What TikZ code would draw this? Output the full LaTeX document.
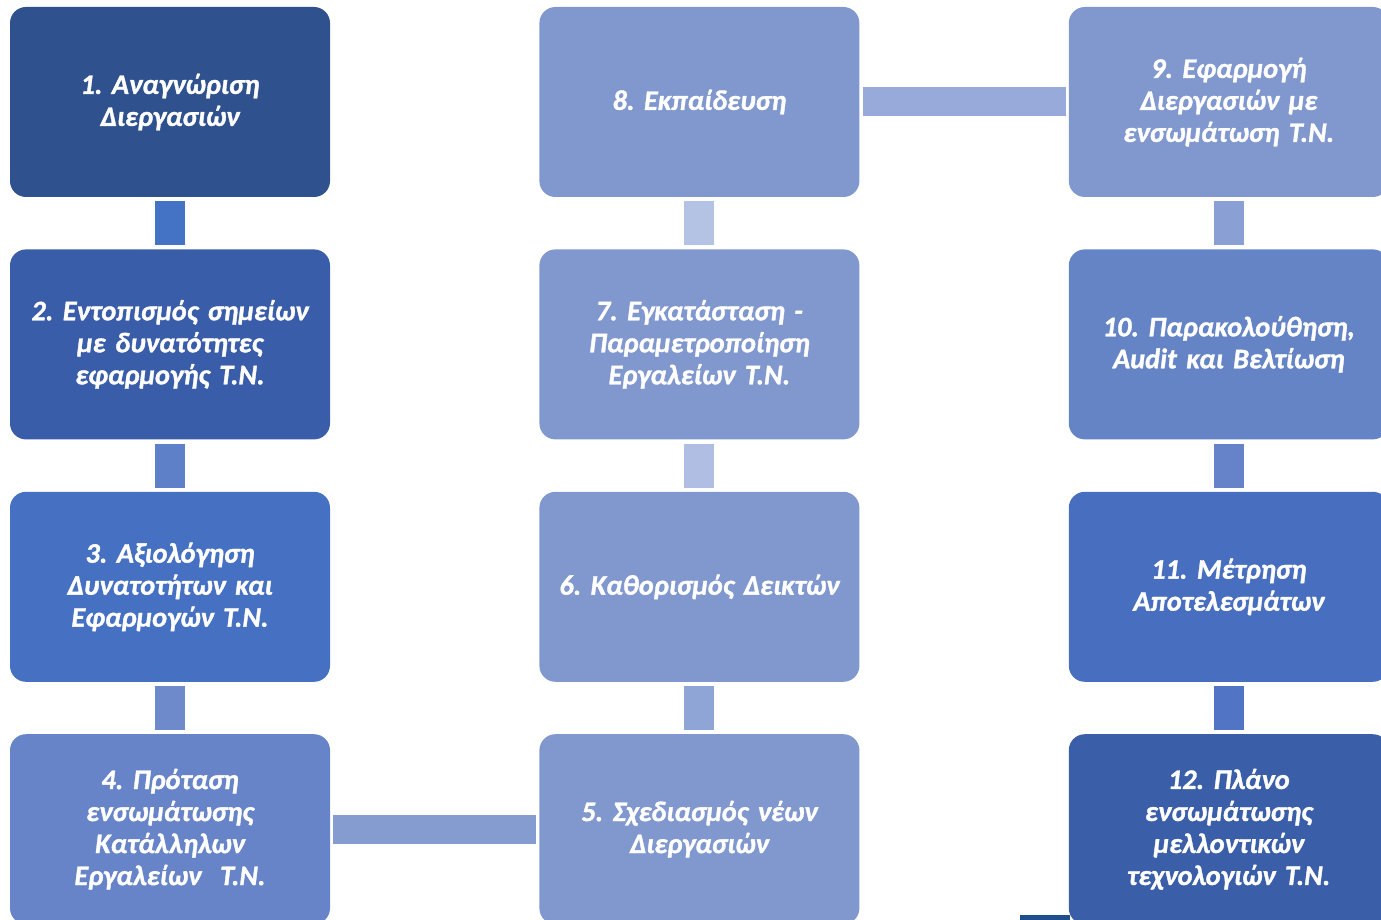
\documentclass[tikz,border=0pt]{standalone}
\usepackage{fontspec}
\setmainfont{Carlito}[BoldItalicFeatures={FakeBold=1.2}]
\usepackage{xcolor}
\usepackage{tikz}
\usetikzlibrary{positioning}
\definecolor{bxa}{HTML}{2F528F}
\definecolor{bxb}{HTML}{3A5DA9}
\definecolor{bxc}{HTML}{4670C2}
\definecolor{bxd}{HTML}{6784C8}
\definecolor{bxe}{HTML}{8198CF}
\definecolor{bxf}{HTML}{6584C6}
\definecolor{bxg}{HTML}{486FBF}
\definecolor{bxh}{HTML}{3A5EA8}
\definecolor{bxz}{HTML}{1F4E8C}
\definecolor{cna}{HTML}{4472C4}
\definecolor{cnb}{HTML}{5E80C8}
\definecolor{cnc}{HTML}{6F8ACB}
\definecolor{cnd}{HTML}{849CD0}
\definecolor{cne}{HTML}{8FA5D6}
\definecolor{cnf}{HTML}{AFBEE2}
\definecolor{cng}{HTML}{B4C2E3}
\definecolor{cnh}{HTML}{98AAD9}
\definecolor{cni}{HTML}{8A9FD4}
\definecolor{cnj}{HTML}{6682C8}
\definecolor{cnk}{HTML}{5274C4}
\frenchspacing
\tikzset{box/.style={fill=#1,text=white,rounded corners=16pt,minimum width=320pt,minimum height=190pt,text width=300pt,inner sep=10pt,align=center,font=\fontsize{28.3}{32}\selectfont\bfseries\itshape}}
\tikzset{bar/.style={draw=#1,line width=30pt,shorten <=4pt,shorten >=4pt}}
\tikzset{hbar/.style={draw=#1,line width=29pt,shorten <=3pt,shorten >=3pt}}

\begin{document}
\begin{tikzpicture}[node distance = 52pt and 209pt]
\useasboundingbox (0,0) rectangle (1381pt,-920pt);
% small piece at the bottom
 \fill[bxz] (1020pt,-915pt) rectangle (1070pt,-920pt);
% left column
 \node[box=bxa] (b1) at (170pt,-102pt) {1. Αναγνώριση\\Διεργασιών};
  \node[box=bxb,below=of b1] (b2) {2. Εντοπισμός σημείων\\με δυνατότητες\\εφαρμογής Τ.Ν.};
  \node[box=bxc,below=of b2] (b3) {3. Αξιολόγηση\\Δυνατοτήτων και\\Εφαρμογών Τ.Ν.};
  \node[box=bxd,below=of b3] (b4) {4. Πρόταση\\ενσωμάτωσης\\Κατάλληλων\\Εργαλείων~ Τ.Ν.};
% middle column
  \node[box=bxe,right=of b4] (b5) {5. Σχεδιασμός νέων\\Διεργασιών};
  \node[box=bxe,above=of b5] (b6) {6. Καθορισμός Δεικτών};
  \node[box=bxe,above=of b6] (b7) {7. Εγκατάσταση -\\Παραμετροποίηση\\Εργαλείων Τ.Ν.};
  \node[box=bxe,above=of b7] (b8) {8. Εκπαίδευση};
% right column
  \node[box=bxe,right=of b8] (b9) {9. Εφαρμογή\\Διεργασιών με\\ενσωμάτωση Τ.Ν.};
  \node[box=bxf,below=of b9] (b10) {10. Παρακολούθηση,\\Audit και Βελτίωση};
  \node[box=bxg,below=of b10] (b11) {11. Μέτρηση\\Αποτελεσμάτων};
  \node[box=bxh,below=of b11] (b12) {12. Πλάνο\\ενσωμάτωσης\\μελλοντικών\\τεχνολογιών Τ.Ν.};
% connectors
  \draw[bar=cna] (b1) -- (b2);
  \draw[bar=cnb] (b2) -- (b3);
  \draw[bar=cnc] (b3) -- (b4);
  \draw[hbar=cnd] (b4) -- (b5);
  \draw[bar=cne] (b5) -- (b6);
  \draw[bar=cnf] (b6) -- (b7);
  \draw[bar=cng] (b7) -- (b8);
  \draw[hbar=cnh] (b8) -- (b9);
  \draw[bar=cni] (b9) -- (b10);
  \draw[bar=cnj] (b10) -- (b11);
  \draw[bar=cnk] (b11) -- (b12);

\end{tikzpicture}
\end{document}
